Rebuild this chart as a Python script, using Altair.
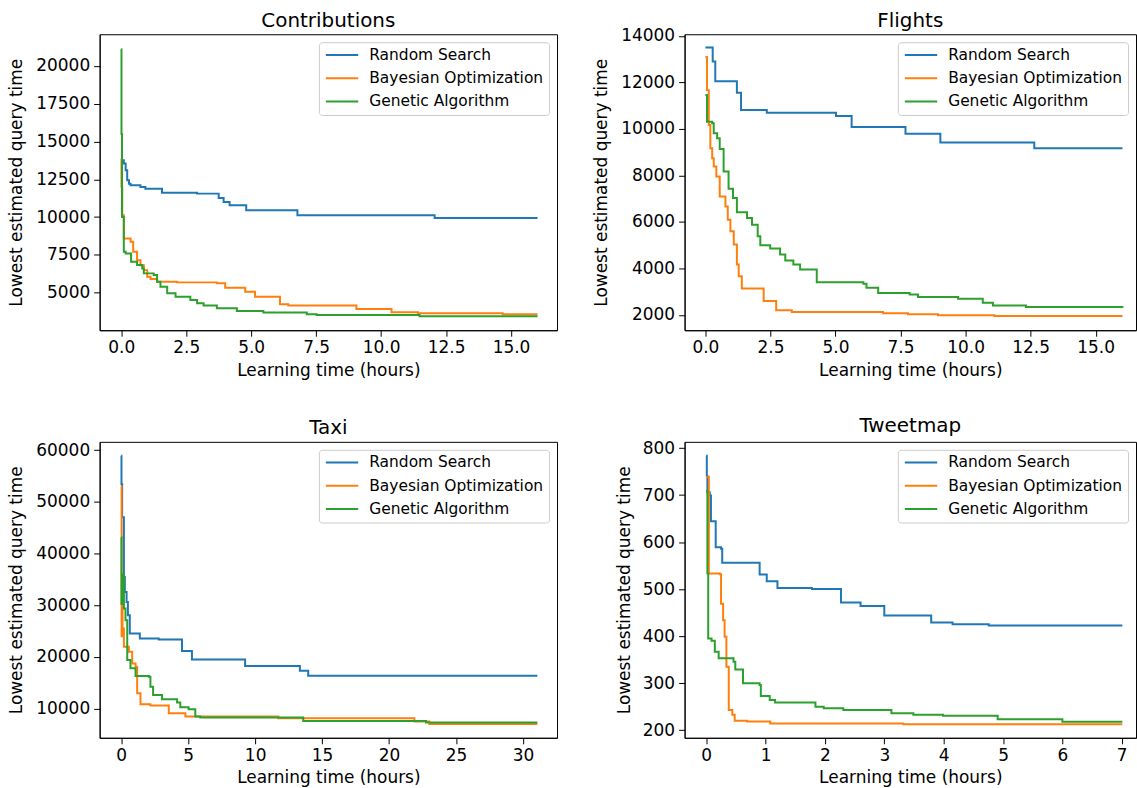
import altair as alt
import pandas as pd

METHODS = ["Random Search", "Bayesian Optimization", "Genetic Algorithm"]
COLORS = ["#1f77b4", "#ff7f0e", "#2ca02c"]
FONT = "DejaVu Sans"

# ---------------- Contributions ----------------
contrib_rs_t = [0, 0.03, 0.1, 0.17, 0.23, 0.3, 0.36, 0.74, 0.93, 1.57, 2.92, 3.75, 3.94, 4.17, 4.81, 6.78, 12.06, 16.02]
contrib_rs_v = [14500, 13750, 13550, 13090, 12430, 12210, 12100, 11990, 11880, 11615, 11550, 11260, 11000, 10780, 10450, 10120, 9945, 9945]
contrib_bo_t = [0, 0.01, 0.04, 0.1, 0.36, 0.46, 0.61, 0.74, 0.87, 1.0, 1.13, 1.38, 2.15, 3.68, 4.0, 4.77, 5.15, 6.11, 6.43, 9.05, 10.4, 11.42, 14.68, 16.02]
contrib_bo_v = [13860, 12000, 10120, 8580, 8360, 7700, 7150, 6820, 6490, 6055, 5900, 5725, 5680, 5615, 5330, 5066, 4736, 4231, 4143, 3923, 3703, 3637, 3571, 3571]
contrib_ga_t = [0, 0.01, 0.03, 0.1, 0.17, 0.38, 0.61, 0.81, 0.87, 1.25, 1.38, 1.51, 1.77, 2.09, 2.66, 2.92, 3.17, 3.68, 4.45, 5.47, 7.14, 7.52, 11.48, 16.02]
contrib_ga_v = [21100, 15500, 10000, 7700, 7590, 7044, 6824, 6604, 6275, 6165, 5725, 5396, 4956, 4736, 4516, 4297, 4143, 3967, 3791, 3681, 3571, 3527, 3439, 3439]

# ---------------- Flights ----------------
flights_rs_t = [0, 0.28, 0.38, 1.21, 1.37, 2.36, 5.02, 5.62, 7.69, 9.03, 12.64, 16.03]
flights_rs_v = [13500, 12900, 12057, 11557, 10814, 10700, 10557, 10086, 9800, 9414, 9171, 9171]
flights_bo_t = [0, 0.06, 0.13, 0.19, 0.26, 0.32, 0.42, 0.55, 0.77, 0.86, 0.96, 1.09, 1.21, 1.28, 1.4, 2.24, 2.72, 3.32, 6.83, 7.79, 8.94, 11.11, 16.03]
flights_bo_v = [13100, 11671, 10171, 9171, 8743, 8386, 7957, 7100, 6671, 6100, 5600, 5029, 4171, 3671, 3143, 2600, 2200, 2129, 2071, 2029, 1986, 1957, 1957]
flights_ga_t = [0, 0.06, 0.26, 0.32, 0.45, 0.55, 0.7, 0.89, 1.06, 1.21, 1.6, 1.79, 2.01, 2.11, 2.49, 2.87, 3.07, 3.38, 3.64, 4.28, 6.07, 6.19, 6.64, 7.85, 8.17, 9.71, 10.66, 11.05, 12.32, 16.03]
flights_ga_v = [11457, 10314, 10243, 9814, 9600, 9143, 8171, 7429, 7029, 6414, 6171, 5886, 5386, 5000, 4857, 4600, 4343, 4171, 3957, 3414, 3343, 3171, 2943, 2886, 2771, 2700, 2529, 2414, 2343, 2314]

# ---------------- Taxi ----------------
taxi_rs_t = [0, 0.02, 0.07, 0.2, 0.27, 0.4, 0.5, 0.64, 1.39, 2.8, 4.54, 5.28, 9.25, 13.34, 13.96, 31.07]
taxi_rs_v = [58900, 53400, 47000, 35450, 32560, 30630, 28060, 24520, 23560, 23370, 21120, 19510, 18230, 17330, 16360, 16360]
taxi_bo_t = [0, 0.03, 0.06, 0.1, 0.2, 0.57, 0.82, 1.07, 1.19, 1.44, 2.18, 3.55, 4.79, 11.73, 21.89, 23.01, 31.07]
taxi_bo_v = [53000, 24000, 30000, 25500, 21950, 20990, 18740, 18100, 12960, 10840, 10580, 9100, 8460, 8140, 7490, 7040, 7040]
taxi_ga_t = [0, 0.02, 0.05, 0.2, 0.32, 0.45, 0.69, 1.07, 2.06, 2.18, 2.38, 3.05, 4.17, 4.41, 5.03, 5.53, 5.9, 13.59, 22.76, 31.07]
taxi_ga_v = [43160, 30300, 36000, 29340, 27100, 19380, 17780, 16300, 16170, 14240, 12630, 11800, 11160, 10260, 9870, 8460, 8260, 7620, 7300, 7300]

# ---------------- Tweetmap ----------------
tweet_rs_t = [0, 0.01, 0.02, 0.06, 0.08, 0.16, 0.25, 0.27, 0.9, 1.02, 1.2, 1.78, 2.27, 2.6, 3.0, 3.79, 4.15, 4.76, 7.01]
tweet_rs_v = [783.7, 741, 706, 699, 644.5, 589, 586, 556, 531, 516.6, 502.5, 500.4, 471.4, 464, 444, 429, 425.4, 422.6, 422.6]
tweet_bo_t = [0, 0.045, 0.23, 0.25, 0.285, 0.31, 0.34, 0.38, 0.44, 0.48, 0.69, 1.08, 3.32, 7.01]
tweet_bo_v = [739, 533, 531.4, 469, 434, 398.6, 335, 243, 232.5, 219.8, 218.4, 214, 212.7, 212.7]
tweet_ga_t = [0, 0.02, 0.034, 0.09, 0.145, 0.21, 0.46, 0.49, 0.62, 0.9, 0.92, 1.07, 1.16, 1.84, 1.98, 2.31, 3.12, 3.49, 3.99, 4.91, 6.0, 7.01]
tweet_ga_v = [709.5, 533, 395, 390, 366.8, 352.7, 345.6, 329, 299.6, 296, 272.8, 264.3, 258.7, 250, 246.6, 243, 236, 232.5, 230.4, 223.3, 217.7, 217.7]

# axis ticks / domains per panel
contrib_xticks = [0, 2.5, 5, 7.5, 10, 12.5, 15]
contrib_yticks = [5000, 7500, 10000, 12500, 15000, 17500, 20000]
flights_xticks = [0, 2.5, 5, 7.5, 10, 12.5, 15]
flights_yticks = [2000, 4000, 6000, 8000, 10000, 12000, 14000]
taxi_xticks = [0, 5, 10, 15, 20, 25, 30]
taxi_yticks = [10000, 20000, 30000, 40000, 50000, 60000]
tweet_xticks = [0, 1, 2, 3, 4, 5, 6, 7]
tweet_yticks = [200, 300, 400, 500, 600, 700, 800]


def make_df(series):
    rows = []
    for name, ts, vs in series:
        for i, (t, v) in enumerate(zip(ts, vs)):
            rows.append({"method": name, "t": t, "v": v, "i": i})
    return pd.DataFrame(rows)


def panel(title, series, xdom, ydom, xticks, yticks, xfmt, width, height, ytitle_x, title_offset):
    df = make_df(series)
    return alt.Chart(df, title=alt.Title(title, frame="group", offset=title_offset)).mark_line(
        interpolate="step-after", strokeWidth=2, clip=True
    ).encode(
        x=alt.X("t:Q", scale=alt.Scale(domain=xdom, nice=False, zero=False),
                axis=alt.Axis(values=xticks, format=xfmt, title="Learning time (hours)")),
        y=alt.Y("v:Q", scale=alt.Scale(domain=ydom, nice=False, zero=False),
                axis=alt.Axis(values=yticks, format="d", title="Lowest estimated query time",
                              titleX=ytitle_x, titleBaseline="middle")),
        color=alt.Color("method:N", scale=alt.Scale(domain=METHODS, range=COLORS),
                        legend=alt.Legend(title=None, orient="top-right")),
        order="i:Q",
    ).properties(width=width, height=height)


c1 = panel("Contributions",
           [(METHODS[0], contrib_rs_t, contrib_rs_v), (METHODS[1], contrib_bo_t, contrib_bo_v),
            (METHODS[2], contrib_ga_t, contrib_ga_v)],
           [-0.83, 16.77], [2515, 22090], contrib_xticks, contrib_yticks, ".1f", 459, 297, -83, 3)
c2 = panel("Flights",
           [(METHODS[0], flights_rs_t, flights_rs_v), (METHODS[1], flights_bo_t, flights_bo_v),
            (METHODS[2], flights_ga_t, flights_ga_v)],
           [-0.8, 16.55], [1346, 14073], flights_xticks, flights_yticks, ".1f", 453, 297, -83, -4)
c3 = panel("Taxi",
           [(METHODS[0], taxi_rs_t, taxi_rs_v), (METHODS[1], taxi_bo_t, taxi_bo_v),
            (METHODS[2], taxi_ga_t, taxi_ga_v)],
           [-1.61, 32.54], [4350, 61600], taxi_xticks, taxi_yticks, "d", 459, 297, -83, 3)
c4 = panel("Tweetmap",
           [(METHODS[0], tweet_rs_t, tweet_rs_v), (METHODS[1], tweet_bo_t, tweet_bo_v),
            (METHODS[2], tweet_ga_t, tweet_ga_v)],
           [-0.364, 7.24], [183.7, 813.4], tweet_xticks, tweet_yticks, "d", 453, 297, -60, 3)

chart = alt.concat(
    c1, c2, c3, c4, columns=2, spacing=alt.RowColnumber(column=34, row=36)
).resolve_scale(
    color="independent", x="independent", y="independent"
).resolve_legend(color="independent").properties(
    padding={"left": 7, "top": 9, "right": 0, "bottom": 0}
).configure_view(
    stroke="black", strokeWidth=1
).configure_axis(
    labelFont=FONT, titleFont=FONT, labelFontSize=17, titleFontSize=17,
    titleFontWeight="normal", labelColor="black", titleColor="black",
    tickColor="black", domainColor="black", tickSize=6, tickWidth=1,
    domainWidth=1, labelPadding=3.5, titlePadding=6.5, grid=False, labelFlush=False,
).configure_axisY(
    labelPadding=4
).configure_title(
    font=FONT, fontSize=20, fontWeight="normal", color="black"
).configure_legend(
    labelFont=FONT, labelFontSize=15.5, labelColor="black", labelLimit=0,
    symbolType="M-2.5,0H2.5", symbolSize=169, symbolStrokeWidth=2,
    symbolOffset=10.5, labelOffset=19.5, padding=5, rowPadding=6.3,
    fillColor="white", strokeColor="#cccccc", cornerRadius=3, offset=8,
)

chart.save("out.html", embed_options={"renderer": "svg", "actions": False})
